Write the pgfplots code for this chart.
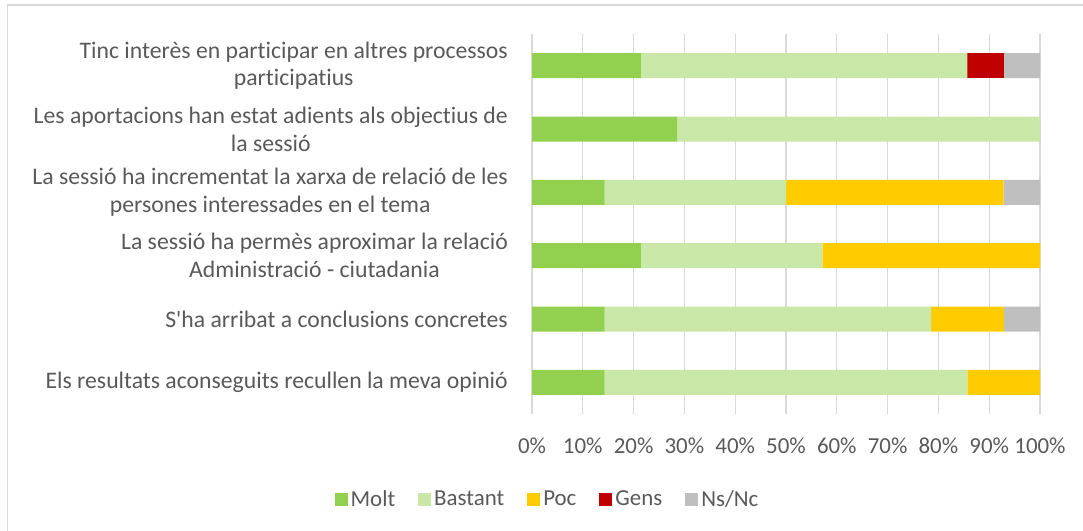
\documentclass[border=0pt]{standalone}
\usepackage{fontspec}
\setmainfont{Carlito}[Ligatures={NoCommon,TeXOff}]
\usepackage{pgfplots}
\pgfplotsset{compat=1.18}
\definecolor{molt}{HTML}{92D050}
\definecolor{bastant}{HTML}{C9E7A7}
\definecolor{poc}{HTML}{FFCC00}
\definecolor{gens}{HTML}{C00000}
\definecolor{nsnc}{HTML}{BFBFBF}
\definecolor{txt}{HTML}{595959}
\definecolor{gridc}{HTML}{D9D9D9}
\begin{document}
\begin{tikzpicture}
\useasboundingbox (0,0) rectangle (1083bp,531bp);
\draw[gridc, line width=1.5bp] (7.5bp,0) -- (7.5bp,526bp) -- (1083bp,526bp);
\begin{axis}[
  at={(532bp,117bp)}, anchor=south west,
  scale only axis, width=508bp, height=380bp,
  xbar stacked, bar width=25bp,
  xmin=0, xmax=100, ymin=-0.5, ymax=5.5,
  xtick={0,10,...,100},
  xticklabels={0\%,10\%,20\%,30\%,40\%,50\%,60\%,70\%,80\%,90\%,100\%},
  ytick={0,1,2,3,4,5},
  yticklabels={
    {Els resultats aconseguits recullen la meva opinió},
    {S'ha arribat a conclusions concretes},
    {La sessió ha permès aproximar la relació\\Administració - ciutadania},
    {La sessió ha incrementat la xarxa de relació de les\\persones interessades en el tema},
    {Les aportacions han estat adients als objectius de\\la sessió},
    {Tinc interès en participar en altres processos\\participatius}},
  axis line style={draw=none},
  major tick length=0pt,
  xmajorgrids, grid style={gridc, line width=1.3bp},
  yticklabel style={align=center, anchor=east, xshift=-24bp, inner sep=0pt,
    font=\fontsize{23.8}{28}\selectfont, text=txt},
  xticklabel style={anchor=base, yshift=-39bp, inner sep=0pt,
    font=\fontsize{23}{28}\selectfont, text=txt},
  legend style={at={(0.0315,-0.2237)}, anchor=center, draw=none, fill=none,
    legend columns=5, font=\fontsize{23}{28}\selectfont, text=txt,
    nodes={inner sep=3bp, xshift=3bp},
    /tikz/every even column/.append style={column sep=20bp}},
]
\addplot[fill=molt, draw=none, legend image code/.code={\fill[molt] (0bp,-6.5bp) rectangle (13bp,6.5bp);}]
  coordinates {(14.29,0) (14.29,1) (21.43,2) (14.29,3) (28.57,4) (21.43,5)};
\addplot[fill=bastant, draw=none, legend image code/.code={\fill[bastant] (0bp,-6.5bp) rectangle (13bp,6.5bp);}]
  coordinates {(71.43,0) (64.29,1) (35.71,2) (35.71,3) (71.43,4) (64.29,5)};
\addplot[fill=poc, draw=none, legend image code/.code={\fill[poc] (0bp,-6.5bp) rectangle (13bp,6.5bp);}]
  coordinates {(14.29,0) (14.29,1) (42.86,2) (42.86,3) (0,4) (0,5)};
\addplot[fill=gens, draw=none, legend image code/.code={\fill[gens] (0bp,-6.5bp) rectangle (13bp,6.5bp);}]
  coordinates {(0,0) (0,1) (0,2) (0,3) (0,4) (7.14,5)};
\addplot[fill=nsnc, draw=none, legend image code/.code={\fill[nsnc] (0bp,-6.5bp) rectangle (13bp,6.5bp);}]
  coordinates {(0,0) (7.14,1) (0,2) (7.14,3) (0,4) (7.14,5)};
\legend{Molt,Bastant,Poc,Gens,Ns/Nc}
\end{axis}
\end{tikzpicture}
\end{document}
